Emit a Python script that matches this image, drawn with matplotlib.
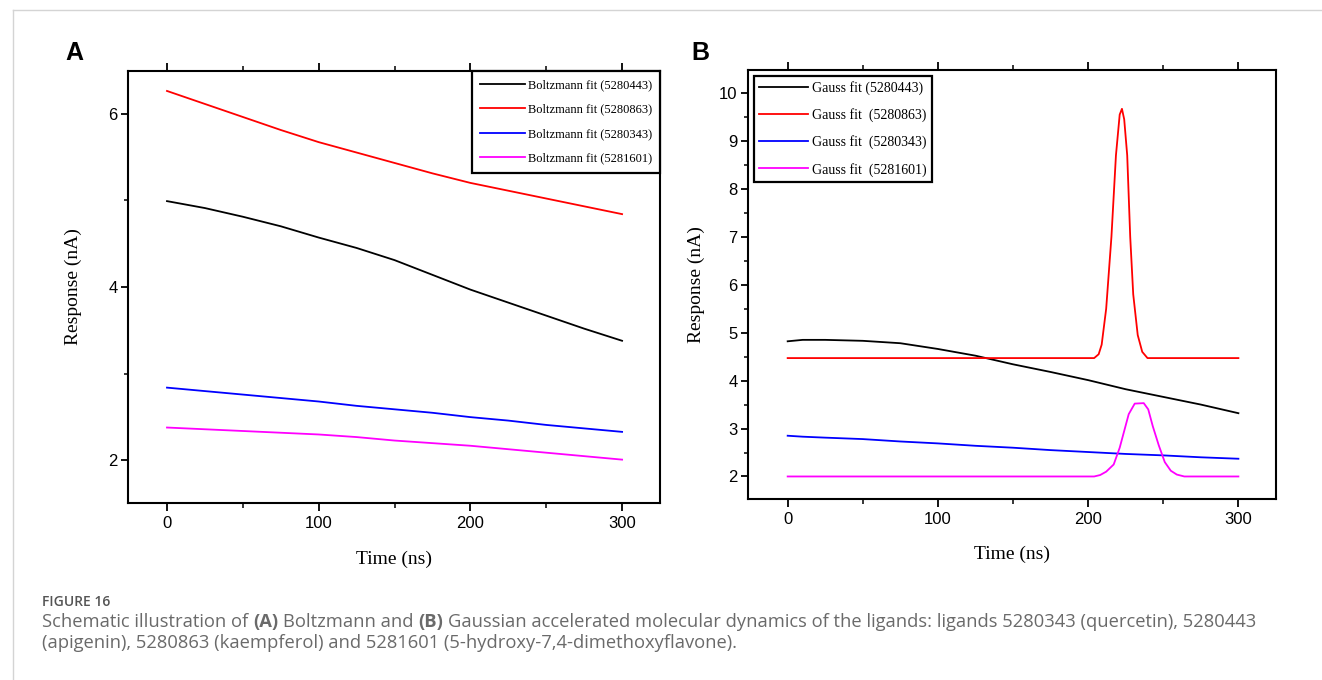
import matplotlib.pyplot as plt
from matplotlib.ticker import MultipleLocator
from matplotlib.lines import Line2D

# ---- data ----
time_a = [0, 25, 50, 75, 100, 125, 150, 175, 200, 225, 250, 275, 300]
boltz_5280443 = [4.99, 4.91, 4.81, 4.70, 4.57, 4.45, 4.31, 4.14, 3.97, 3.82, 3.67, 3.52, 3.38]
boltz_5280863 = [6.26, 6.11, 5.96, 5.81, 5.67, 5.55, 5.43, 5.31, 5.20, 5.11, 5.02, 4.93, 4.84]
boltz_5280343 = [2.84, 2.80, 2.76, 2.72, 2.68, 2.63, 2.59, 2.55, 2.50, 2.46, 2.41, 2.37, 2.33]
boltz_5281601 = [2.38, 2.36, 2.34, 2.32, 2.30, 2.27, 2.23, 2.20, 2.17, 2.13, 2.09, 2.05, 2.01]

time_b = [0, 10, 25, 50, 75, 100, 125, 150, 175, 200, 225, 250, 275, 300]
gauss_5280443 = [4.82, 4.85, 4.85, 4.83, 4.78, 4.66, 4.52, 4.34, 4.18, 4.01, 3.82, 3.66, 3.50, 3.32]
gauss_5280343 = [2.85, 2.83, 2.81, 2.78, 2.73, 2.69, 2.64, 2.60, 2.55, 2.51, 2.47, 2.44, 2.40, 2.37]

time_red = [0, 204, 207, 209, 212, 215.5, 218.5, 221, 222.5, 224, 226, 228, 230, 233, 236, 239.5, 300]
gauss_5280863 = [4.47, 4.47, 4.55, 4.75, 5.5, 7.0, 8.7, 9.55, 9.67, 9.45, 8.7, 7.0, 5.8, 4.95, 4.6, 4.47, 4.47]

time_mag = [0, 204, 208, 212, 217, 221, 224, 227, 231, 237, 240, 243, 247, 251, 255, 259, 264, 300]
gauss_5281601 = [2.0, 2.0, 2.03, 2.1, 2.25, 2.6, 2.95, 3.3, 3.52, 3.53, 3.4, 3.05, 2.65, 2.3, 2.12, 2.04, 2.0, 2.0]

colors = ['black', '#ff0000', '#0000ff', '#ff00ff']
labels_a = ['Boltzmann fit (5280443)', 'Boltzmann fit (5280863)',
            'Boltzmann fit (5280343)', 'Boltzmann fit (5281601)']
labels_b = ['Gauss fit (5280443)', 'Gauss fit  (5280863)',
            'Gauss fit  (5280343)', 'Gauss fit  (5281601)']

caption_line1 = [('Schematic illustration of', 'normal'), ('(A)', 'bold'), ('Boltzmann and', 'normal'),
                 ('(B)', 'bold'),
                 ('Gaussian accelerated molecular dynamics of the ligands: ligands 5280343 (quercetin), 5280443',
                  'normal')]
caption_line2 = '(apigenin), 5280863 (kaempferol) and 5281601 (5-hydroxy-7,4-dimethoxyflavone).'

plt.rcParams.update({
    'font.family': 'Liberation Sans',
    'axes.linewidth': 1.5,
    'xtick.major.width': 1.3,
    'ytick.major.width': 1.3,
    'xtick.minor.width': 1.1,
    'ytick.minor.width': 1.1,
})
serif = 'Liberation Serif'
W, H = 1322, 680

fig = plt.figure(figsize=(W / 100, H / 100), dpi=100)

# light page frame
fig.add_artist(Line2D([13 / W, 1.0], [1 - 10 / H] * 2, color='#d4d4d4', lw=1))
fig.add_artist(Line2D([13 / W] * 2, [0, 1 - 10 / H], color='#d4d4d4', lw=1))


def style_axes(ax):
    ax.tick_params(axis='x', which='both', direction='out', top=True, bottom=True,
                   labelsize=12, pad=3.5)
    ax.tick_params(axis='x', which='major', length=6)
    ax.tick_params(axis='x', which='minor', length=3.5)
    ax.tick_params(axis='y', which='both', direction='out', left=True, right=False,
                   labelsize=12, pad=2.5)
    ax.tick_params(axis='y', which='major', length=5)
    ax.tick_params(axis='y', which='minor', length=3)
    ax.xaxis.set_major_locator(MultipleLocator(100))
    ax.xaxis.set_minor_locator(MultipleLocator(50))


# ---- panel A ----
axA = fig.add_axes([128 / W, 1 - 503 / H, 532 / W, 432 / H])
for y, c, lab in zip([boltz_5280443, boltz_5280863, boltz_5280343, boltz_5281601], colors, labels_a):
    axA.plot(time_a, y, color=c, lw=1.3, label=lab)
axA.set_xlim(-25.7, 325)
axA.set_ylim(1.51, 6.49)
axA.yaxis.set_major_locator(MultipleLocator(2))
axA.yaxis.set_minor_locator(MultipleLocator(1))
style_axes(axA)
axA.set_xlabel('Time (ns)', fontfamily=serif, fontsize=14, va='center')
axA.set_ylabel('Response (nA)', fontfamily=serif, fontsize=14, va='center')
axA.xaxis.set_label_coords(0.5, -0.13)
axA.yaxis.set_label_coords(-0.103, 0.5)
legA = axA.legend(loc='upper right', borderaxespad=0, fancybox=False, framealpha=1,
                  edgecolor='black', prop={'family': serif, 'size': 9},
                  handlelength=3.6, handletextpad=0.25, labelspacing=1.0, borderpad=0.65)
legA.get_frame().set_linewidth(1.6)

# ---- panel B ----
axB = fig.add_axes([748 / W, 1 - 499 / H, 527.5 / W, 429 / H])
axB.plot(time_b, gauss_5280443, color=colors[0], lw=1.3, label=labels_b[0])
axB.plot(time_red, gauss_5280863, color=colors[1], lw=1.3, label=labels_b[1])
axB.plot(time_b, gauss_5280343, color=colors[2], lw=1.3, label=labels_b[2])
axB.plot(time_mag, gauss_5281601, color=colors[3], lw=1.3, label=labels_b[3])
axB.set_xlim(-26.4, 324.7)
axB.set_ylim(1.53, 10.48)
axB.yaxis.set_major_locator(MultipleLocator(1))
axB.yaxis.set_minor_locator(MultipleLocator(0.5))
style_axes(axB)
axB.set_xlabel('Time (ns)', fontfamily=serif, fontsize=14, va='center')
axB.set_ylabel('Response (nA)', fontfamily=serif, fontsize=14, va='center')
axB.xaxis.set_label_coords(0.5, -0.128)
axB.yaxis.set_label_coords(-0.097, 0.5)
legB = axB.legend(loc='upper left', borderaxespad=0.4, fancybox=False, framealpha=1,
                  edgecolor='black', prop={'family': serif, 'size': 10},
                  handlelength=3.5, handletextpad=0.3, labelspacing=0.95, borderpad=0.4)
legB.get_frame().set_linewidth(1.6)

# panel letters
fig.text(74 / W, 1 - 53 / H, 'A', fontsize=18, fontweight='bold', ha='center', va='center')
fig.text(700 / W, 1 - 53 / H, 'B', fontsize=18, fontweight='bold', ha='center', va='center')

# ---- caption ----
cap_font = 'Open Sans'
cap_color = '#6a6a6a'
cap_size = 13.2
fig.text(42 / W, 1 - 606 / H, 'FIGURE 16', fontsize=10, color='#555555',
         family=cap_font, fontweight='semibold', va='baseline')

renderer = fig.canvas.get_renderer()


def text_width(s, weight='normal'):
    t = fig.text(0, 0, s, fontsize=cap_size, family=cap_font, fontweight=weight)
    w = t.get_window_extent(renderer).width
    t.remove()
    return w


space = text_width('x x') - text_width('xx')
x = 42
for txt, w in caption_line1:
    fig.text(x / W, 1 - 627 / H, txt, fontsize=cap_size, color=cap_color, family=cap_font,
             fontweight=w, va='baseline')
    x += text_width(txt, w) + space
fig.text(42 / W, 1 - 648 / H, caption_line2, fontsize=cap_size, color=cap_color,
         family=cap_font, va='baseline')

fig.savefig('out.png', dpi=100)
